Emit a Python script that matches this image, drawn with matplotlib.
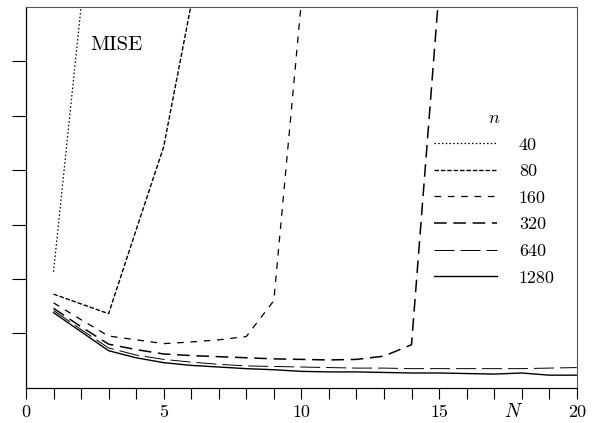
import numpy as np
import matplotlib
matplotlib.use("Agg")
import matplotlib.pyplot as plt
import matplotlib.transforms as mtransforms

plt.rcParams['font.family'] = ['cmr10', 'DejaVu Serif']
plt.rcParams['mathtext.fontset'] = 'cm'
plt.rcParams['lines.scale_dashes'] = False
plt.rcParams['axes.unicode_minus'] = False

nan = np.nan
N = list(range(1, 21))
sample_sizes = ['40', '80', '160', '320', '640', '1280']

mise_40 = [2.13, 7.0, 16.0] + [nan] * 17
mise_80 = [1.72, 1.54, 1.36, 2.90, 4.43, 7.05, 12.0] + [nan] * 13
mise_160 = [1.56, 1.25, 0.95, 0.88, 0.81, 0.84, 0.88, 0.94, 1.60, 7.1, 14.0] + [nan] * 9
mise_320 = [1.46, 1.12, 0.80, 0.70, 0.62, 0.59, 0.57, 0.55, 0.53, 0.52, 0.51, 0.52,
            0.58, 0.79, 7.3, 14.0] + [nan] * 4
mise_640 = [1.42, 1.07, 0.73, 0.60, 0.52, 0.47, 0.43, 0.40, 0.39, 0.38, 0.37, 0.36,
            0.36, 0.35, 0.35, 0.35, 0.35, 0.35, 0.36, 0.37]
mise_1280 = [1.38, 1.03, 0.68, 0.55, 0.46, 0.41, 0.38, 0.35, 0.33, 0.30, 0.29, 0.29,
             0.28, 0.27, 0.27, 0.26, 0.25, 0.27, 0.23, 0.23]

series = [mise_40, mise_80, mise_160, mise_320, mise_640, mise_1280]
styles = [
    dict(ls=(0, (1.1, 1.6)), lw=0.9),
    dict(ls=(0, (3.2, 1.4)), lw=1.0),
    dict(ls=(0, (4.8, 4.8)), lw=0.9),
    dict(ls=(0, (9.1, 4.8)), lw=1.1),
    dict(ls=(0, (14.4, 4.3)), lw=0.7),
    dict(ls='-', lw=1.0),
]

x_major = [0, 5, 10, 15, 20]
y_ticks = [1, 2, 3, 4, 5, 6]

fig = plt.figure(figsize=(5.92, 4.23), dpi=100)
ax = fig.add_axes([0.0439, 0.0835, 0.9303, 0.9])
for vals, lab, st in zip(series, sample_sizes, styles):
    ax.plot(N, vals, color='black', label=lab, ls=st['ls'], lw=st['lw'])

ax.set_xlim(0, 20)
ax.set_ylim(0, 7)
ax.set_xticks(x_major)
ax.set_xticklabels([str(v) for v in x_major], fontsize=13)
ax.set_xticks(range(0, 21), minor=True)
ax.set_yticks(y_ticks)
ax.set_yticklabels([])
ax.tick_params(axis='x', which='both', direction='out', length=8.2, width=0.8, pad=4)
ax.tick_params(axis='y', which='both', direction='out', length=10.3, width=0.8)
ax.tick_params(top=False, right=False)
for s in ['left', 'bottom']:
    ax.spines[s].set_linewidth(0.9)
for s in ['top', 'right']:
    ax.spines[s].set_linewidth(0.8)
    ax.spines[s].set_color('#555555')

trans = mtransforms.blended_transform_factory(ax.transData, ax.transAxes)
ax.text(17.7, -0.063, '$N$', transform=trans, ha='center', va='center', fontsize=14)
ax.text(3.27, 6.30, 'MISE', ha='center', va='center', fontsize=15)

leg = ax.legend(title='$n$', loc='upper left', bbox_to_anchor=(0.741, 0.728),
                frameon=False, fontsize=13, title_fontsize=13,
                handlelength=3.49, handletextpad=1.2, labelspacing=0.61,
                borderpad=0, borderaxespad=0)

fig.savefig('out.png', dpi=100)
